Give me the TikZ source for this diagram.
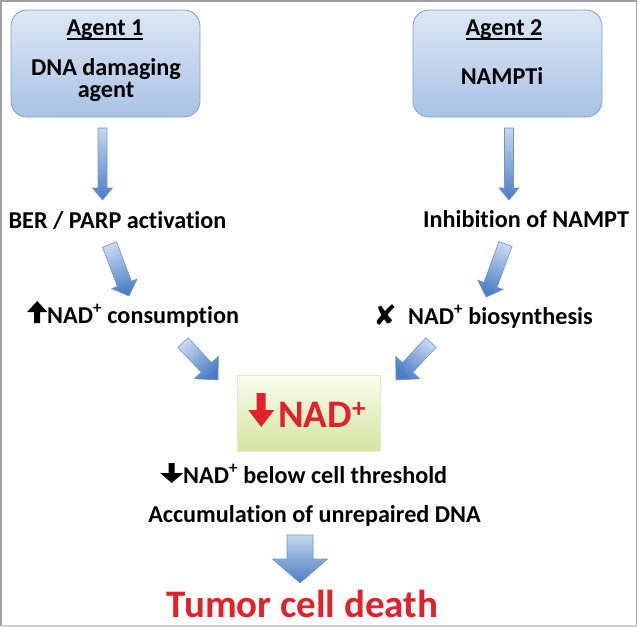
\documentclass[tikz,border=0pt]{standalone}
\usepackage{fontspec}
\setmainfont{Carlito}[Ligatures=NoCommon]
\newfontfamily\symfont{DejaVu Sans}
\usetikzlibrary{calc}
\definecolor{boxtop}{HTML}{DDE7F4}
\definecolor{boxbot}{HTML}{AAC2E6}
\definecolor{boxline}{HTML}{7C9FD4}
\definecolor{arlight}{HTML}{C5D6EF}
\definecolor{ardark}{HTML}{4A7DC3}
\definecolor{arline}{HTML}{6F95CC}
\definecolor{nadtop}{HTML}{FBFCEE}
\definecolor{nadbot}{HTML}{D3E4A2}
\definecolor{nadline}{HTML}{E3EAD0}
\definecolor{tred}{HTML}{E2222A}
\definecolor{frame}{HTML}{A0A0A0}
\newcommand\ulx[1]{\setbox0\hbox{#1}\rlap{\rule[-4.6pt]{\wd0}{1.3pt}}\box0}
\newcommand\fatup[5]{\tikz[baseline={(0,0)},x=1pt,y=1pt]{\fill[#1] (-#4/2,0)--(-#4/2,#3-#5)--(-#2/2,#3-#5)--(0,#3)--(#2/2,#3-#5)--(#4/2,#3-#5)--(#4/2,0)--cycle;}}
\newcommand\fatdown[5]{\tikz[baseline={(0,0)},x=1pt,y=1pt]{\fill[#1] (-#4/2,#3)--(-#4/2,#5)--(-#2/2,#5)--(0,0)--(#2/2,#5)--(#4/2,#5)--(#4/2,#3)--cycle;}}
\newcommand\barrow[5]{%
  \path (#1); \pgfgetlastxy{\ax}{\ay}%
  \path (#2); \pgfgetlastxy{\bx}{\by}%
  \pgfmathsetmacro\aang{atan2(\by-\ay,\bx-\ax)}%
  \pgfmathsetmacro\alen{veclen(\bx-\ax,\by-\ay)}%
  \pgfmathsetmacro\sang{\aang+90}%
  \begin{scope}[shift={(#1)},rotate=\aang,x=1pt,y=1pt]
    \path[draw=arline,line width=0.6pt,top color=arlight,bottom color=ardark,shading angle=\sang]
      (0,-#3/2)--(\alen-#5,-#3/2)--(\alen-#5,-#4/2)--(\alen,0)--(\alen-#5,#4/2)--(\alen-#5,#3/2)--(0,#3/2)--cycle;
  \end{scope}}
\begin{document}
\begin{tikzpicture}[x=1pt,y=-1pt,
  txt/.style={font=\fontsize{24.2}{28}\selectfont\bfseries,inner sep=0pt,text=black},
  bigred/.style={font=\fontsize{39}{44}\selectfont\bfseries,inner sep=0pt,text=tred},
  agentbox/.style={draw=boxline,line width=0.8pt,rounded corners=16pt,top color=boxtop,bottom color=boxbot,inner sep=0pt},
  nadbox/.style={draw=nadline,line width=0.8pt,top color=nadtop,bottom color=nadbot,inner sep=0pt}]
\useasboundingbox (0,0) rectangle (638,627);
\draw[frame,line width=1.5pt] (1,626) -- (1,1) -- (636.5,1) -- (636.5,626);
\draw[frame!50,line width=1.5pt] (1,626) -- (636.5,626);

% agent boxes
\node[agentbox,minimum width=189pt,minimum height=107pt] (box1) at (105.5,63.5) {};
\node[agentbox,minimum width=189pt,minimum height=107pt] (box2) at (507.5,63.5) {};
\node[txt,anchor=base] (a1) at (105,35) {\ulx{Agent 1}};
\node[txt,anchor=base] (a1b) at (106,75) {DNA damaging};
\node[txt,anchor=base] (a1c) at (106,97) {agent};
\node[txt,anchor=base] (a2) at (504,35) {\ulx{Agent 2}};
\node[txt,anchor=base] (a2b) at (502,84) {NAMPTi};

% level texts
\node[txt,anchor=base] (ber) at (117.5,228) {BER / PARP activation};
\node[txt,anchor=base] (inh) at (526,227) {Inhibition of NAMPT};
\node[txt,anchor=base west] (cons) at (27,323) {\fatup{black}{20}{22}{6}{11}NAD\textsuperscript{+} consumption};
\node[txt,anchor=base] (xm) at (385,325) {\symfont\fontsize{28}{30}\selectfont ✘};
\node[txt,anchor=base west] (bio) at (408,324) {NAD\textsuperscript{+} biosynthesis};

% NAD box
\node[nadbox,minimum width=143pt,minimum height=76pt] (nad) at (308.5,413) {};
\node[bigred,anchor=base west] (nadt) at (248,427) {\fatdown{tred}{26}{34}{9}{17}\hspace{4pt}NAD\textsuperscript{+}};

\node[txt,anchor=base west] (below) at (160,483) {\fatdown{black}{23}{20}{6}{10}NAD\textsuperscript{+} below cell threshold};
\node[txt,anchor=base] (acc) at (314.5,522) {Accumulation of unrepaired DNA};
\node[bigred,anchor=base] (death) at (302.5,617) {Tumor cell death};

% arrow end points
\coordinate (d1s) at (102.5,128); \coordinate (d1e) at (102.5,200);
\coordinate (d2s) at (509,128);   \coordinate (d2e) at (509,200);
\coordinate (l1s) at (109.5,244.5); \coordinate (l1e) at (129,296);
\coordinate (r1s) at (505.5,244); \coordinate (r1e) at (486,297);
\coordinate (l2s) at (183,342.5); \coordinate (l2e) at (218,380);
\coordinate (r2s) at (431,342.5); \coordinate (r2e) at (396,380);
\coordinate (bs) at (300,535); \coordinate (be) at (300,583);

\barrow{d1s}{d1e}{9}{20}{12}
\barrow{d2s}{d2e}{9}{20}{12}
\barrow{l1s}{l1e}{15}{27}{13}
\barrow{r1s}{r1e}{14}{27}{13}
\barrow{l2s}{l2e}{14}{33}{17}
\barrow{r2s}{r2e}{14}{33}{17}
\barrow{bs}{be}{26}{55}{24}
\end{tikzpicture}
\end{document}
